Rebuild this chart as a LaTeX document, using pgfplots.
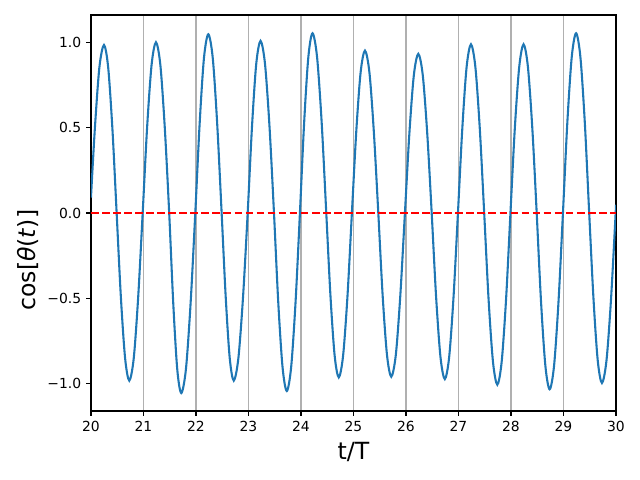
\documentclass[border=0pt]{standalone}
\usepackage{fontspec}
\setmainfont{DejaVu Sans}
\usepackage{pgfplots}
\pgfplotsset{compat=1.18}
\definecolor{tabblue}{RGB}{31,119,180}
\definecolor{gridgray}{RGB}{176,176,176}
\begin{document}
\begin{tikzpicture}
\begin{axis}[
  scale only axis,
  width=378pt, height=285.1pt,
  xmin=20, xmax=30, ymin=-1.161, ymax=1.161,
  xtick={20,21,22,23,24,25,26,27,28,29,30},
  xticklabels={20,21,22,23,24,25,26,27,28,29,30},
  ytick={-1,-0.5,0,0.5,1},
  yticklabels={−1.0,−0.5,0.0,0.5,1.0},
  tick align=outside,
  xtick pos=bottom, ytick pos=left,
  major tick length=3.5pt,
  every tick/.style={black, line width=0.8pt},
  axis line style={black, line width=0.8pt},
  xmajorgrids,
  grid style={gridgray, line width=0.8pt},
  ticklabel style={font=\fontsize{10}{12}\selectfont},
  label style={font=\fontsize{17}{20}\selectfont},
  xlabel={t/T},
  ylabel={cos[\textit{θ}(\textit{t})]},
  xlabel style={at={(axis description cs:0.5,-0.1237)}, anchor=base},
  ylabel style={at={(axis description cs:-0.119,0.381)}, anchor=center},
  clip=true,
]
\addplot[tabblue, line width=1.5pt, smooth, no marks] coordinates {
(20,0.09) (20.073,0.49) (20.160,0.853) (20.248,0.985) (20.328,0.853) (20.409,0.49)
(20.489,0) (20.569,-0.49) (20.650,-0.851) (20.73,-0.983) (20.815,-0.851) (20.900,-0.49)
(20.985,0) (21.069,0.50) (21.154,0.867) (21.238,1.001) (21.322,0.867) (21.406,0.50)
(21.49,0) (21.567,-0.528) (21.643,-0.915) (21.72,-1.056) (21.809,-0.915) (21.898,-0.528)
(21.987,0) (22.070,0.524) (22.152,0.908) (22.235,1.048) (22.320,0.908) (22.404,0.524)
(22.489,0) (22.566,-0.49) (22.643,-0.851) (22.72,-0.983) (22.808,-0.851) (22.897,-0.49)
(22.985,0) (23.067,0.505) (23.148,0.874) (23.23,1.009) (23.315,0.874) (23.401,0.505)
(23.486,0) (23.567,-0.522) (23.649,-0.904) (23.73,-1.044) (23.813,-0.904) (23.897,-0.522)
(23.98,0) (24.060,0.527) (24.140,0.913) (24.22,1.054) (24.307,0.913) (24.395,0.527)
(24.482,0) (24.561,-0.482) (24.641,-0.835) (24.72,-0.964) (24.803,-0.835) (24.887,-0.482)
(24.97,0) (25.053,0.476) (25.136,0.824) (25.219,0.952) (25.304,0.824) (25.388,0.476)
(25.473,0) (25.555,-0.48) (25.638,-0.831) (25.72,-0.96) (25.807,-0.831) (25.893,-0.48)
(25.98,0) (26.065,0.467) (26.150,0.808) (26.235,0.933) (26.320,0.808) (26.405,0.467)
(26.49,0) (26.573,-0.487) (26.657,-0.844) (26.74,-0.974) (26.823,-0.844) (26.907,-0.487)
(26.99,0) (27.073,0.495) (27.155,0.856) (27.238,0.989) (27.322,0.856) (27.406,0.495)
(27.49,0) (27.573,-0.504) (27.657,-0.872) (27.74,-1.007) (27.823,-0.872) (27.907,-0.504)
(27.99,0) (28.073,0.495) (28.157,0.856) (28.24,0.989) (28.323,0.856) (28.407,0.495)
(28.49,0) (28.572,-0.517) (28.655,-0.895) (28.737,-1.034) (28.821,-0.895) (28.906,-0.517)
(28.99,0) (29.073,0.527) (29.157,0.913) (29.24,1.054) (29.323,0.913) (29.407,0.527)
(29.49,0) (29.571,-0.499) (29.652,-0.863) (29.733,-0.997) (29.820,-0.863) (29.907,-0.499)
(29.994,0) (30,0.04)
};
\addplot[red, line width=1.5pt, dash pattern=on 5.55pt off 2.4pt, no marks] coordinates {(20,0) (30,0)};
\end{axis}
\pgfresetboundingbox
\path[use as bounding box] ([shift={(-65.5pt,-49.7pt)}]current axis.south west) rectangle ([shift={(17.3pt,10.8pt)}]current axis.north east);
\end{tikzpicture}
\end{document}
